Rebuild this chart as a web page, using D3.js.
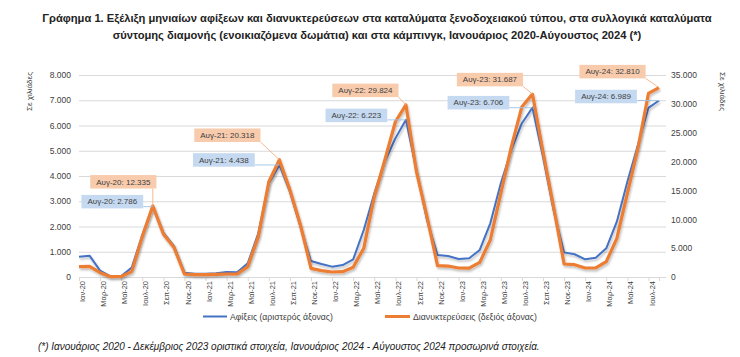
<!DOCTYPE html>
<html><head><meta charset="utf-8">
<script src="https://cdn.jsdelivr.net/npm/d3@7"></script>
<style>body{margin:0;background:#fff}svg{display:block}</style>
</head><body>
<svg id="c" width="740" height="357"></svg>
<script>
const categories = ["Ιαν-20","Φεβ-20","Μαρ-20","Απρ-20","Μαϊ-20","Ιουν-20","Ιουλ-20","Αυγ-20","Σεπ-20","Οκτ-20","Νοε-20","Δεκ-20",
"Ιαν-21","Φεβ-21","Μαρ-21","Απρ-21","Μαϊ-21","Ιουν-21","Ιουλ-21","Αυγ-21","Σεπ-21","Οκτ-21","Νοε-21","Δεκ-21",
"Ιαν-22","Φεβ-22","Μαρ-22","Απρ-22","Μαϊ-22","Ιουν-22","Ιουλ-22","Αυγ-22","Σεπ-22","Οκτ-22","Νοε-22","Δεκ-22",
"Ιαν-23","Φεβ-23","Μαρ-23","Απρ-23","Μαϊ-23","Ιουν-23","Ιουλ-23","Αυγ-23","Σεπ-23","Οκτ-23","Νοε-23","Δεκ-23",
"Ιαν-24","Φεβ-24","Μαρ-24","Απρ-24","Μαϊ-24","Ιουν-24","Ιουλ-24","Αυγ-24"];
// thousands
const arrivals = [805,845,250,25,40,370,1660,2786,1755,1230,170,130,
130,145,200,185,540,1730,3700,4438,3380,1990,635,515,
410,475,700,1860,3310,4570,5490,6223,4240,2260,870,830,
710,740,1070,2125,3710,5030,6090,6706,4760,2650,975,900,
700,765,1135,2190,3775,5230,6700,6989];
const overnights = [1790,1850,750,60,100,925,7000,12335,7460,5150,520,400,
400,460,520,520,1800,7000,16500,20318,15100,9010,1500,1100,
870,920,1680,4970,13900,20270,26900,29824,18250,10450,1960,1900,
1560,1530,2540,6410,14500,22580,29510,31687,21710,12190,2250,2130,
1560,1560,2650,6700,14500,22300,31800,32810];
const leftTicks = [0,1000,2000,3000,4000,5000,6000,7000,8000];
const rightTicks = [0,5000,10000,15000,20000,25000,30000,35000];
const labeledIdx = [7,19,31,43,55];
const titleLines = ["Γράφημα 1. Εξέλιξη μηνιαίων αφίξεων και διανυκτερεύσεων στα καταλύματα ξενοδοχειακού τύπου, στα συλλογικά καταλύματα",
"σύντομης διαμονής (ενοικιαζόμενα δωμάτια) και στα κάμπινγκ, Ιανουάριος 2020-Αύγουστος 2024 (*)"];
const seriesNames = ["Αφίξεις (αριστερός άξονας)","Διανυκτερεύσεις (δεξιός άξονας)"];
const axisTitle = "Σε χιλιάδες";
const footnote = "(*) Ιανουάριος 2020 - Δεκέμβριος 2023 οριστικά στοιχεία, Ιανουάριος 2024 - Αύγουστος 2024 προσωρινά στοιχεία.";

// layout (callout box centre offsets from the data point)
const offOrange = [[-29.5,-24],[-52,-24.5],[-40.5,-14.5],[-42.5,-14.5],[-46.5,-16]];
const offBlue = [[-40.5,-5],[-55.5,-5],[-49.5,-4.5],[-54,-5],[-53,-4]];

const BLUE="#4472C4", ORANGE="#ED7D31", FONT="'Liberation Sans', Arial, sans-serif";
const loc = d3.formatLocale({decimal:",", thousands:".", grouping:[3], currency:["","€"]});
const fmt = loc.format(",d");

const svg = d3.select("#c");
const defs = svg.append("defs");
const f = defs.append("filter").attr("id","sh").attr("x","-10%").attr("y","-10%").attr("width","120%").attr("height","130%");
f.append("feDropShadow").attr("dx",1).attr("dy",2).attr("stdDeviation",1.2).attr("flood-color","#000").attr("flood-opacity",0.25);

const x = d3.scalePoint().domain(categories).range([79,659]);
const yL = d3.scaleLinear().domain([0,8000]).range([277,75]);
const yR = d3.scaleLinear().domain([0,35000]).range([277,75]);

function fit(sel, target){const w=sel.node().getComputedTextLength();const fs=parseFloat(sel.attr("font-size"));sel.attr("font-size",fs*target/w);return fs*target/w;}

// title
const t1 = svg.append("text").attr("x",377).attr("y",22).attr("text-anchor","middle").attr("font-family",FONT).attr("font-weight","bold").attr("font-size",10).attr("fill","#222").text(titleLines[0]);
const tfs = fit(t1,670);
svg.append("text").attr("x",377).attr("y",39).attr("text-anchor","middle").attr("font-family",FONT).attr("font-weight","bold").attr("font-size",tfs).attr("fill","#222").text(titleLines[1]);

// gridlines
svg.append("g").selectAll("line").data(leftTicks).join("line")
 .attr("x1",79).attr("x2",666).attr("y1",d=>yL(d)+0.5).attr("y2",d=>yL(d)+0.5)
 .attr("stroke","#d9d9d9").attr("stroke-width",1);

// left axis
const gl = svg.append("g").attr("transform","translate(79,0)")
 .call(d3.axisLeft(yL).tickValues(leftTicks).tickFormat(fmt).tickSize(0).tickPadding(8));
gl.select(".domain").remove();
gl.selectAll("text").attr("font-family",FONT).attr("font-size",8.5).attr("fill","#404040");
// right axis
const gr = svg.append("g").attr("transform","translate(666,0)")
 .call(d3.axisRight(yR).tickValues(rightTicks).tickFormat(fmt).tickSize(0).tickPadding(5));
gr.select(".domain").remove();
gr.selectAll("text").attr("font-family",FONT).attr("font-size",8.5).attr("fill","#404040");

// axis titles
svg.append("text").attr("transform","translate(32,72) rotate(-90)").attr("text-anchor","end")
 .attr("font-family",FONT).attr("font-size",8).attr("fill","#404040").text(axisTitle);
svg.append("text").attr("transform","translate(720,72) rotate(90)").attr("text-anchor","start")
 .attr("font-family",FONT).attr("font-size",8).attr("fill","#404040").text(axisTitle);

// x axis ticks and labels
const xt = categories.filter((d,i)=>i%2===0);
const gx = svg.append("g").attr("transform","translate(0,277)")
 .call(d3.axisBottom(x).tickValues(xt).tickSize(4).tickPadding(3));
gx.select(".domain").attr("stroke","#d9d9d9");
gx.selectAll(".tick line").attr("stroke","#d9d9d9");
gx.selectAll("text").attr("font-family",FONT).attr("font-size",7.5).attr("fill","#404040")
 .attr("text-anchor","end").attr("transform","rotate(-90)").attr("x",-4).attr("y",3).attr("dy","0.35em");

// lines
const lineL = d3.line().x((d,i)=>x(categories[i])).y(d=>yL(d));
const lineR = d3.line().x((d,i)=>x(categories[i])).y(d=>yR(d));
svg.append("path").datum(arrivals).attr("d",lineL).attr("fill","none").attr("stroke",BLUE).attr("stroke-width",2).attr("stroke-linejoin","round").attr("filter","url(#sh)");
svg.append("path").datum(overnights).attr("d",lineR).attr("fill","none").attr("stroke",ORANGE).attr("stroke-width",3.2).attr("stroke-linejoin","round").attr("filter","url(#sh)");

// callouts
function callout(px,py,off,txt,fill,lineCol){
  const g = svg.append("g");
  const tx = g.append("text").attr("font-family",FONT).attr("font-size",8).attr("fill","#404040").attr("text-anchor","middle")
    .attr("x",px+off[0]).attr("y",py+off[1]).attr("dy","0.35em").text(txt);
  const w = tx.node().getComputedTextLength()+12, h=13.5;
  const bx = px+off[0]-w/2, by = py+off[1]-h/2;
  const cx = Math.max(bx,Math.min(px,bx+w)), cy = Math.max(by,Math.min(py,by+h));
  g.insert("line","text").attr("x1",cx).attr("y1",cy).attr("x2",px).attr("y2",py).attr("stroke",lineCol).attr("stroke-width",0.9);
  g.insert("rect","text").attr("x",bx).attr("y",by).attr("width",w).attr("height",h).attr("fill",fill);
}
labeledIdx.forEach((idx,k)=>{
  const px = x(categories[idx]);
  callout(px, yR(overnights[idx]), offOrange[k], categories[idx]+": "+fmt(overnights[idx]), "#F8CBAD", "#F4B183");
  callout(px, yL(arrivals[idx]), offBlue[k], categories[idx]+": "+fmt(arrivals[idx]), "#C5D9F1", "#9DC3E6");
});

// legend
const lg = svg.append("g");
lg.append("line").attr("x1",203).attr("x2",227).attr("y1",316.5).attr("y2",316.5).attr("stroke",BLUE).attr("stroke-width",2);
const l1 = lg.append("text").attr("x",230).attr("y",319.5).attr("font-family",FONT).attr("font-size",8).attr("fill","#404040").text(seriesNames[0]);
fit(l1,103);
lg.append("line").attr("x1",385).attr("x2",410).attr("y1",316.5).attr("y2",316.5).attr("stroke",ORANGE).attr("stroke-width",3);
const l2 = lg.append("text").attr("x",413).attr("y",319.5).attr("font-family",FONT).attr("font-size",8).attr("fill","#404040").text(seriesNames[1]);
fit(l2,124);

// footnote
const fn = svg.append("text").attr("x",38).attr("y",350).attr("font-family",FONT).attr("font-style","italic").attr("font-size",9).attr("fill","#222").text(footnote);
fit(fn,502);
</script>
</body></html>
